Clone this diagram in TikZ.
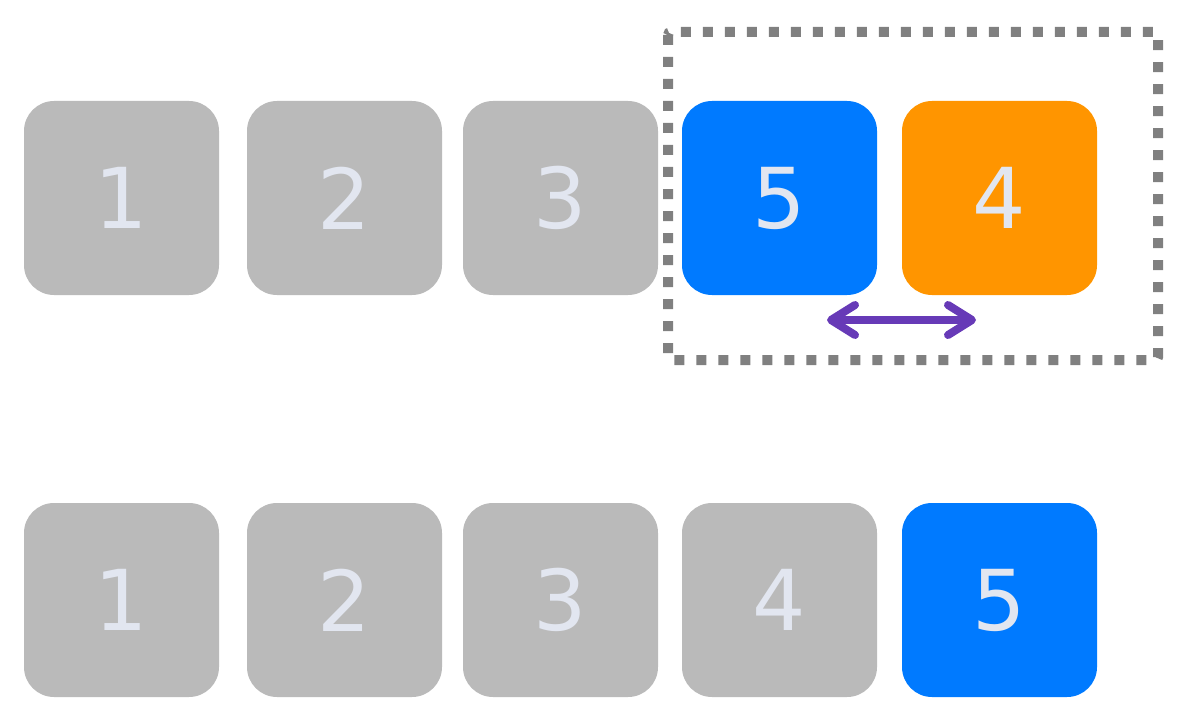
\documentclass[tikz,border=0pt]{standalone}
\usepackage{fontspec}
\setmainfont{DejaVu Sans}
\usetikzlibrary{arrows.meta}
\definecolor{boxgray}{HTML}{BABABA}
\definecolor{boxblue}{HTML}{007AFF}
\definecolor{boxorange}{HTML}{FF9500}
\definecolor{digitcol}{HTML}{E2E6F0}
\definecolor{swappurple}{HTML}{673AB7}
\definecolor{framegray}{HTML}{808080}
\newcommand{\dg}[1]{\raisebox{-2pt}{#1}}
\tikzset{
  cell/.style={rounded corners=30pt, minimum width=195pt, minimum height=194pt, inner sep=0pt,
    text=digitcol, font=\fontsize{84}{84}\selectfont},
  graycell/.style={cell, fill=boxgray},
  bluecell/.style={cell, fill=boxblue},
  orangecell/.style={cell, fill=boxorange},
  swaparrow/.style={draw=swappurple, line width=8pt, line cap=round,
    {Straight Barb[length=24pt,width=30pt,round]}-{Straight Barb[length=24pt,width=30pt,round]}},
}
\begin{document}
\begin{tikzpicture}[x=1pt,y=-1pt]
\useasboundingbox (0,0) rectangle (1182,714);
% top row
\node[graycell] (t1) at (121.5,198) {\dg{1}};
\node[graycell] (t2) at (344.5,198) {\dg{2}};
\node[graycell] (t3) at (560.5,198) {\dg{3}};
\node[bluecell] (t4) at (779.5,198) {\dg{5}};
\node[orangecell] (t5) at (999.5,198) {\dg{4}};
% bottom row
\node[graycell] (b1) at (121.5,600) {\dg{1}};
\node[graycell] (b2) at (344.5,600) {\dg{2}};
\node[graycell] (b3) at (560.5,600) {\dg{3}};
\node[graycell] (b4) at (779.5,600) {\dg{4}};
\node[bluecell] (b5) at (999.5,600) {\dg{5}};
% dotted frame
\draw[framegray, line width=10pt, dash pattern=on 10pt off 12pt, rounded corners=3pt]
  (668,32) rectangle (1158,360);
% swap arrow
\coordinate (al) at (827,320);
\coordinate (ar) at (976,320);
\draw[swaparrow] (al) -- (ar);
\end{tikzpicture}
\end{document}
